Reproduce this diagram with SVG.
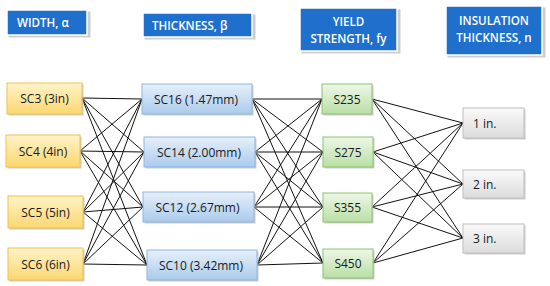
<svg xmlns="http://www.w3.org/2000/svg" width="550" height="286" viewBox="0 0 550 286">
<defs>
<linearGradient id="gy" x1="0" y1="0" x2="0" y2="1"><stop offset="0" stop-color="#fff3c8"/><stop offset="1" stop-color="#fbd770"/></linearGradient>
<linearGradient id="gb" x1="0" y1="0" x2="0" y2="1"><stop offset="0" stop-color="#e6f0fa"/><stop offset="1" stop-color="#aacbec"/></linearGradient>
<linearGradient id="gg" x1="0" y1="0" x2="0" y2="1"><stop offset="0" stop-color="#eef7e8"/><stop offset="1" stop-color="#b9dfa5"/></linearGradient>
<linearGradient id="gw" x1="0" y1="0" x2="0" y2="1"><stop offset="0" stop-color="#fafafa"/><stop offset="1" stop-color="#dcdcdc"/></linearGradient>
<style>
.sh{fill:#b8b8b8;opacity:0.7}
.hd{fill:#1f6fcc;stroke:#ffffff;stroke-width:1.5}
.ht{fill:#ffffff;font-family:"Open Sans","Liberation Sans",sans-serif;font-size:11.6px;font-weight:600}
.hc{text-anchor:middle}
.y{fill:url(#gy);stroke:#f2c24a;stroke-width:1}
.b{fill:url(#gb);stroke:#8fb5df;stroke-width:1}
.g{fill:url(#gg);stroke:#8cc46d;stroke-width:1}
.w{fill:url(#gw);stroke:#c0c0c0;stroke-width:1}
.t{fill:#1a1a1a;font-family:"Open Sans","Liberation Sans",sans-serif;font-size:12px;text-anchor:middle}
.ts{fill:#1a1a1a;font-family:"Open Sans","Liberation Sans",sans-serif;font-size:12px;text-anchor:start}
.c line{stroke:#111;stroke-width:1}
</style>
</defs>
<rect width="550" height="286" fill="#ffffff"/>
<g id="connectors" class="c">
<line x1="82" y1="98" x2="142" y2="99"/><line x1="82" y1="98" x2="144" y2="152"/><line x1="82" y1="98" x2="143" y2="207"/><line x1="82" y1="98" x2="147" y2="265"/>
<line x1="80" y1="151" x2="142" y2="99"/><line x1="80" y1="151" x2="144" y2="152"/><line x1="80" y1="151" x2="143" y2="207"/><line x1="80" y1="151" x2="147" y2="265"/>
<line x1="83" y1="212" x2="142" y2="99"/><line x1="83" y1="212" x2="144" y2="152"/><line x1="83" y1="212" x2="143" y2="207"/><line x1="83" y1="212" x2="147" y2="265"/>
<line x1="83" y1="264" x2="142" y2="99"/><line x1="83" y1="264" x2="144" y2="152"/><line x1="83" y1="264" x2="143" y2="207"/><line x1="83" y1="264" x2="147" y2="265"/>
<line x1="252" y1="99" x2="322" y2="99"/><line x1="252" y1="99" x2="323" y2="152"/><line x1="252" y1="99" x2="323" y2="207"/><line x1="252" y1="99" x2="323" y2="263"/>
<line x1="255" y1="152" x2="322" y2="99"/><line x1="255" y1="152" x2="323" y2="152"/><line x1="255" y1="152" x2="323" y2="207"/><line x1="255" y1="152" x2="323" y2="263"/>
<line x1="254" y1="207" x2="322" y2="99"/><line x1="254" y1="207" x2="323" y2="152"/><line x1="254" y1="207" x2="323" y2="207"/><line x1="254" y1="207" x2="323" y2="263"/>
<line x1="257" y1="265" x2="322" y2="99"/><line x1="257" y1="265" x2="323" y2="152"/><line x1="257" y1="265" x2="323" y2="207"/><line x1="257" y1="265" x2="323" y2="263"/>
<line x1="372" y1="99" x2="463" y2="123"/><line x1="372" y1="99" x2="463" y2="184"/><line x1="372" y1="99" x2="463" y2="238"/>
<line x1="373" y1="152" x2="463" y2="123"/><line x1="373" y1="152" x2="463" y2="184"/><line x1="373" y1="152" x2="463" y2="238"/>
<line x1="372" y1="207" x2="463" y2="123"/><line x1="372" y1="207" x2="463" y2="184"/><line x1="372" y1="207" x2="463" y2="238"/>
<line x1="373" y1="263" x2="463" y2="123"/><line x1="373" y1="263" x2="463" y2="184"/><line x1="373" y1="263" x2="463" y2="238"/>
</g>
<g id="h-width"><rect class="sh" x="8.5" y="11.5" width="82" height="26"/><rect class="hd" x="7" y="10" width="80" height="25"/><text class="ht" x="17" y="27">WIDTH, α</text></g>
<g id="h-thickness"><rect class="sh" x="144.5" y="14.5" width="111" height="25"/><rect class="hd" x="143" y="13" width="109" height="24"/><text class="ht" x="152" y="30">THICKNESS, β</text></g>
<g id="h-yield"><rect class="sh" x="301.5" y="9.5" width="99" height="44"/><rect class="hd" x="300" y="8" width="97" height="43"/><text class="ht hc" x="348.5" y="26">YIELD</text><text class="ht hc" x="348.5" y="43">STRENGTH, fy</text></g>
<g id="h-insulation"><rect class="sh" x="447.5" y="7.5" width="98" height="50"/><rect class="hd" x="446" y="6" width="96" height="49"/><text class="ht hc" x="494" y="25">INSULATION</text><text class="ht hc" x="494" y="42">THICKNESS, n</text></g>
<g id="sc3"><rect class="sh" x="8.5" y="84.5" width="75" height="31"/><rect class="y" x="7" y="83" width="75" height="31"/><text class="t" x="44.5" y="102.5">SC3 (3in)</text></g>
<g id="sc4"><rect class="sh" x="7.5" y="136.5" width="74" height="32"/><rect class="y" x="6" y="135" width="74" height="32"/><text class="t" x="43" y="155.5">SC4 (4in)</text></g>
<g id="sc5"><rect class="sh" x="9.5" y="197.5" width="75" height="32"/><rect class="y" x="8" y="196" width="75" height="32"/><text class="t" x="45.5" y="216.5">SC5 (5in)</text></g>
<g id="sc6"><rect class="sh" x="9.5" y="249.5" width="75" height="32"/><rect class="y" x="8" y="248" width="75" height="32"/><text class="t" x="45.5" y="268.5">SC6 (6in)</text></g>
<g id="sc16"><rect class="sh" x="143.5" y="85.5" width="110" height="30"/><rect class="b" x="142" y="84" width="110" height="30"/><text class="t" x="196" y="103.5">SC16 (1.47mm)</text></g>
<g id="sc14"><rect class="sh" x="145.5" y="138.5" width="111" height="30"/><rect class="b" x="144" y="137" width="111" height="30"/><text class="t" x="199" y="156.5">SC14 (2.00mm)</text></g>
<g id="sc12"><rect class="sh" x="144.5" y="193.5" width="111" height="30"/><rect class="b" x="143" y="192" width="111" height="30"/><text class="t" x="197.5" y="211.5">SC12 (2.67mm)</text></g>
<g id="sc10"><rect class="sh" x="148.5" y="251.5" width="110" height="30"/><rect class="b" x="147" y="250" width="110" height="30"/><text class="t" x="201" y="269.5">SC10 (3.42mm)</text></g>
<g id="s235"><rect class="sh" x="323.5" y="85.5" width="50" height="30"/><rect class="g" x="322" y="84" width="50" height="30"/><text class="t" x="347" y="103.5">S235</text></g>
<g id="s275"><rect class="sh" x="324.5" y="138.5" width="50" height="30"/><rect class="g" x="323" y="137" width="50" height="30"/><text class="t" x="348" y="156.5">S275</text></g>
<g id="s355"><rect class="sh" x="324.5" y="194.5" width="49" height="29"/><rect class="g" x="323" y="193" width="49" height="29"/><text class="t" x="347.5" y="211.5">S355</text></g>
<g id="s450"><rect class="sh" x="324.5" y="250.5" width="50" height="29"/><rect class="g" x="323" y="249" width="50" height="29"/><text class="t" x="348" y="267.5">S450</text></g>
<g id="n1"><rect class="sh" x="464.5" y="109.5" width="61" height="30"/><rect class="w" x="463" y="108" width="61" height="30"/><text class="ts" x="473" y="127.5">1 in.</text></g>
<g id="n2"><rect class="sh" x="464.5" y="171.5" width="61" height="28"/><rect class="w" x="463" y="170" width="61" height="28"/><text class="ts" x="473" y="188.5">2 in.</text></g>
<g id="n3"><rect class="sh" x="464.5" y="225.5" width="61" height="29"/><rect class="w" x="463" y="224" width="61" height="29"/><text class="ts" x="473" y="242.5">3 in.</text></g>
</svg>
